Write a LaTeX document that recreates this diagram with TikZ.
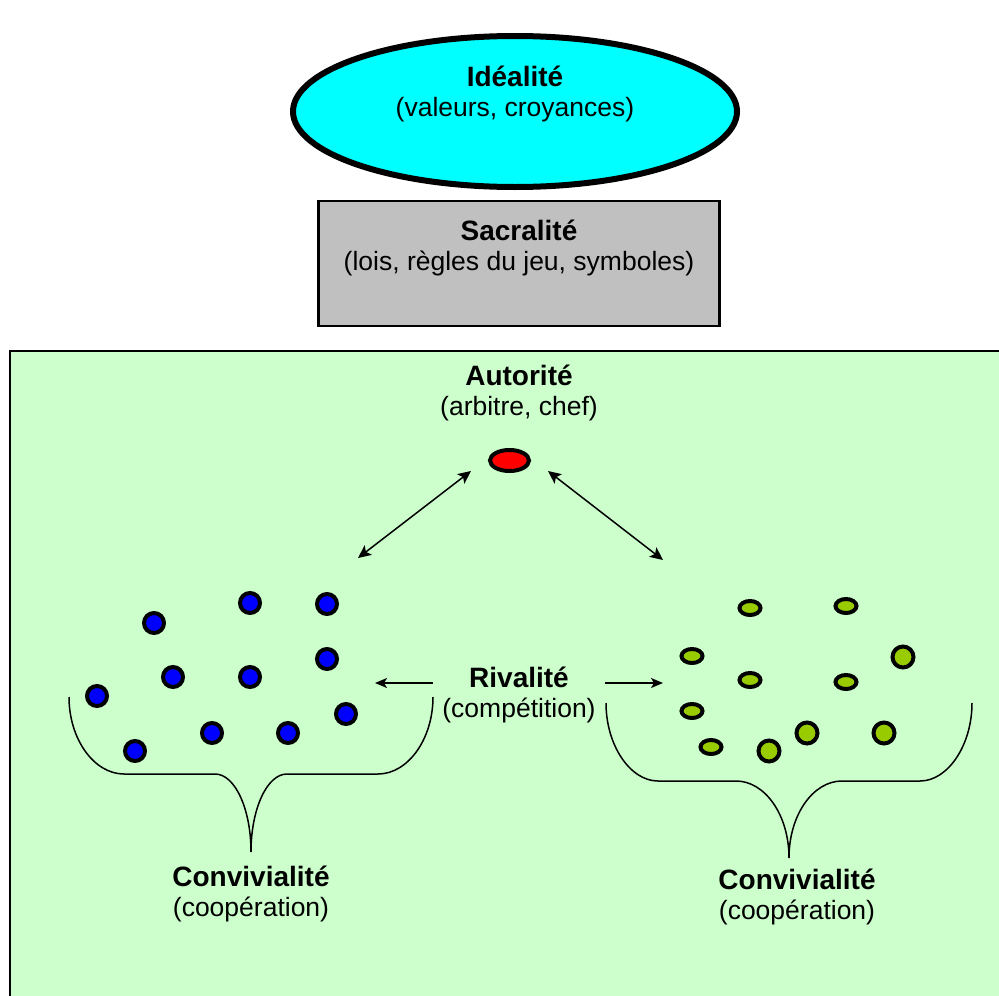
\documentclass[tikz,border=0pt]{standalone}
\usepackage{fontspec}
\setmainfont{Liberation Sans}
\usetikzlibrary{arrows.meta,shapes.geometric,positioning}

\definecolor{aqua}{RGB}{0,255,255}
\definecolor{mint}{RGB}{204,255,204}
\definecolor{silvergray}{RGB}{192,192,192}
\definecolor{leafgreen}{RGB}{153,204,0}

\newcommand{\boldhead}[1]{{\fontsize{28}{30}\selectfont\bfseries #1}}

\begin{document}
\begin{tikzpicture}[x=1pt,y=-1pt,>={Stealth[length=13pt,width=12pt,inset=3pt]},
    lbl/.style={align=center, inner sep=0pt, anchor=base, font=\fontsize{26.5}{30}\selectfont},
    bluedot/.style={circle, draw=black, line width=4pt, fill=blue, minimum size=20pt, inner sep=0pt},
    flatdot/.style={ellipse, draw=black, line width=4pt, fill=leafgreen, minimum width=21pt, minimum height=14pt, inner sep=0pt},
    rounddot/.style={circle, draw=black, line width=4pt, fill=leafgreen, minimum size=21pt, inner sep=0pt},
    link/.style={<->, line width=1.5pt}]
  \tikzstyle{push}=[->, line width=1.5pt, >={Stealth[length=12pt,width=10pt,inset=3pt]}]

  \useasboundingbox (0,0) rectangle (999,996);

  % top: ideals and laws
  \node[ellipse, draw=black, line width=6pt, fill=aqua, minimum width=444pt, minimum height=151pt] (ideal) at (515,111.5) {};
  \node[lbl] (ideallbl) at (515,116) {\boldhead{Idéalité}\\(valeurs, croyances)};
  \node[rectangle, draw=black, line width=2.5pt, fill=silvergray, minimum width=401pt, minimum height=125pt] (sacral) at (519,263.5) {};
  \node[lbl] (sacrallbl) at (519,270) {\boldhead{Sacralité}\\(lois, règles du jeu, symboles)};

  % the group
  \draw[fill=mint, line width=2.5pt] (10,351) rectangle (1015,1015);

  \node[lbl] (authlbl) at (519,415) {\boldhead{Autorité}\\(arbitre, chef)};
  \node[ellipse, draw=black, line width=4pt, fill=red, minimum width=39pt, minimum height=21pt, inner sep=0pt] (auth) at (509.5,460.5) {};
  \node[lbl] (rivlbl) at (519,717) {\boldhead{Rivalité}\\(compétition)};

  % left team
  \node[bluedot] (b1) at (154,623) {};
  \node[bluedot] (b2) at (250,603) {};
  \node[bluedot] (b3) at (327,604) {};
  \node[bluedot] (b4) at (327,659) {};
  \node[bluedot] (b5) at (173,677) {};
  \node[bluedot] (b6) at (250,677) {};
  \node[bluedot] (b7) at (97,696) {};
  \node[bluedot] (b8) at (346,714) {};
  \node[bluedot] (b9) at (212,733) {};
  \node[bluedot] (b10) at (288,733) {};
  \node[bluedot] (b11) at (135,751) {};

  % right team
  \node[flatdot] (g1) at (750,608) {};
  \node[flatdot] (g2) at (846,606) {};
  \node[flatdot] (g3) at (692,656) {};
  \node[flatdot] (g4) at (750,680) {};
  \node[flatdot] (g5) at (846,682) {};
  \node[flatdot] (g6) at (692,711) {};
  \node[flatdot] (g7) at (711,747) {};
  \node[rounddot] (g8) at (903,657) {};
  \node[rounddot] (g9) at (807,733) {};
  \node[rounddot] (g10) at (884,733) {};
  \node[rounddot] (g11) at (769,751) {};

  % braces
  \draw[line width=1.5pt] (69,697) .. controls (69,739) and (94,774) .. (124,774) -- (215,774)
        .. controls (235,774) and (251,809) .. (251,852)
        .. controls (251,809) and (267,774) .. (287,774) -- (378,774)
        .. controls (408,774) and (433,739) .. (433,697);
  \draw[line width=1.5pt] (606,703) .. controls (606,745) and (630,781) .. (658,781) -- (736,781)
        .. controls (765,781) and (789,815) .. (789,858)
        .. controls (789,815) and (813,781) .. (842,781) -- (920,781)
        .. controls (948,781) and (972,745) .. (972,703);

  \node[lbl] (convL) at (251,916) {\boldhead{Convivialité}\\(coopération)};
  \node[lbl] (convR) at (797,919) {\boldhead{Convivialité}\\(coopération)};

  % links
  \coordinate (authL) at (471,471);
  \coordinate (blueside) at (358,558);
  \coordinate (authR) at (548,471);
  \coordinate (greenside) at (663,560);
  \draw[link] (blueside) -- (authL);
  \draw[link] (authR) -- (greenside);
  \coordinate (rivL) at (433,683);
  \coordinate (toblue) at (375,683);
  \coordinate (rivR) at (605,683);
  \coordinate (togreen) at (663,683);
  \draw[push] (rivL) -- (toblue);
  \draw[push] (rivR) -- (togreen);
\end{tikzpicture}
\end{document}
